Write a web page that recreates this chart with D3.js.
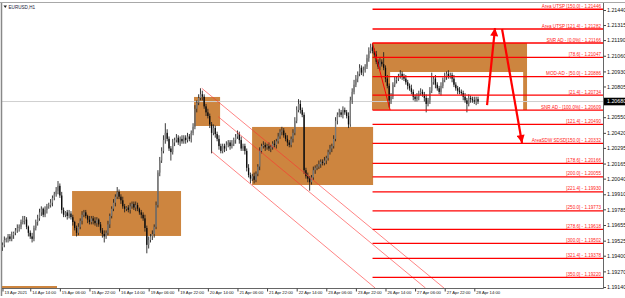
<!DOCTYPE html>
<html>
<head>
<meta charset="utf-8">
<script src="https://cdn.jsdelivr.net/npm/d3@7"></script>
<style>
  html, body { margin: 0; padding: 0; background: #fff; }
  svg { display: block; font-family: "Liberation Sans", Arial, sans-serif; }
</style>
</head>
<body>
<svg id="chart" width="625" height="298"></svg>
<script>
// EURUSD H1 closes (one per bar)
const closes = [
  1.1949,1.1953,1.1954,1.1956,1.1954,1.1957,1.1959,1.1961,1.1963,1.1964,
  1.1968,1.1969,1.1970,1.1964,1.1959,1.1956,1.1954,1.1963,1.1968,1.1971,
  1.1976,1.1979,1.1974,1.1978,1.1981,1.1982,1.1984,1.1988,1.1991,1.1994,
  1.1998,1.1990,1.1978,1.1974,1.1976,1.1973,1.1975,1.1972,1.1968,1.1963,
  1.1959,1.1964,1.1969,1.1974,1.1976,1.1973,1.1970,1.1968,1.1971,1.1969,
  1.1967,1.1970,1.1966,1.1961,1.1958,1.1956,1.1959,1.1966,1.1973,1.1979,
  1.1984,1.1989,1.1993,1.1989,1.1986,1.1981,1.1979,1.1980,1.1978,1.1981,
  1.1983,1.1980,1.1982,1.1979,1.1976,1.1974,1.1971,1.1963,1.1949,1.1953,
  1.1956,1.1958,1.1964,1.1982,1.2009,1.2019,1.2027,1.2036,1.2042,1.2037,
  1.2029,1.2026,1.2034,1.2036,1.2038,1.2034,1.2037,1.2035,1.2038,1.2036,
  1.2039,1.2037,1.2042,1.2047,1.2062,1.2067,1.2071,1.2074,1.2072,1.2064,
  1.2059,1.2056,1.2049,1.2042,1.2046,1.2041,1.2037,1.2031,1.2027,1.2031,
  1.2029,1.2032,1.2034,1.2031,1.2033,1.2036,1.2039,1.2041,1.2036,1.2029,
  1.2031,1.2027,1.2013,1.2007,1.2004,1.2006,1.2003,1.2008,1.2014,1.2027,
  1.2031,1.2032,1.2030,1.2031,1.2029,1.2030,1.2033,1.2032,1.2035,1.2039,
  1.2043,1.2044,1.2040,1.2037,1.2034,1.2032,1.2037,1.2042,1.2052,1.2061,
  1.2066,1.2061,1.2057,1.2011,1.2006,1.2004,1.2001,1.2005,1.2011,1.2013,
  1.2014,1.2016,1.2018,1.2017,1.2019,1.2021,1.2026,1.2029,1.2031,1.2037,
  1.2052,1.2057,1.2059,1.2057,1.2061,1.2059,1.2056,1.2049,1.2069,1.2076,
  1.2082,1.2087,1.2091,1.2096,1.2092,1.2094,1.2097,1.2104,1.2110,1.2113,
  1.2110,1.2107,1.2101,1.2097,1.2101,1.2099,1.2096,1.2087,1.2081,1.2069,
  1.2072,1.2082,1.2086,1.2087,1.2089,1.2091,1.2089,1.2087,1.2084,1.2081,
  1.2079,1.2076,1.2072,1.2070,1.2072,1.2075,1.2076,1.2074,1.2071,1.2066,
  1.2069,1.2077,1.2084,1.2087,1.2082,1.2079,1.2076,1.2081,1.2086,1.2089,
  1.2091,1.2089,1.2090,1.2087,1.2082,1.2079,1.2077,1.2076,1.2075,1.2072,
  1.2069,1.2066,1.2071,1.2070,1.2069,1.2068,1.2070,1.2068
];
const firstOpen = 1.1947;
// wick lengths in pips above / below the body
const upWicks = [
  2,3,1,2,2,3,1,2,3,2,2,4,3,2,1,2,3,2,2,3,
  3,2,1,3,2,2,3,2,2,3,4,2,3,2,1,2,3,2,2,1,
  2,3,2,3,2,2,1,3,2,2,3,2,1,2,2,3,2,3,2,2,
  3,2,4,2,2,3,2,1,2,3,2,2,3,2,1,2,2,3,2,3,
  2,3,2,3,2,3,3,4,8,3,2,2,3,2,3,2,2,3,2,2,
  3,2,2,3,3,2,3,5,3,2,2,3,2,2,3,2,2,3,2,2,
  2,3,2,2,3,2,2,3,2,3,2,2,2,3,2,2,3,2,2,3,
  2,3,2,2,3,2,2,3,2,3,2,3,2,2,3,2,2,3,3,3,
  4,3,2,2,2,3,2,2,3,2,2,3,2,2,3,2,2,3,2,3,
  3,2,3,2,3,2,2,3,3,3,4,3,2,3,2,3,2,3,3,3,
  3,2,3,2,3,2,10,2,3,2,3,2,3,2,2,3,2,2,3,2,
  2,3,2,2,3,2,3,2,2,3,2,3,8,2,3,2,2,3,2,3,
  2,3,2,2,3,2,2,3,2,2,3,2,3,2,2,3,2,2
];
const downWicks = [
  3,2,2,3,2,2,3,2,2,3,2,2,3,2,3,2,3,2,2,3,
  2,3,2,2,3,2,2,3,2,2,3,2,3,2,2,3,2,2,3,2,
  3,2,2,3,2,2,3,2,2,3,2,3,2,2,3,5,2,2,3,2,
  2,3,2,2,3,2,3,2,2,3,2,2,3,2,2,3,2,3,7,3,
  2,3,3,2,2,3,2,2,3,2,2,7,2,3,2,2,3,2,2,3,
  2,2,3,2,2,3,2,2,3,2,3,2,3,17,2,3,2,3,2,2,
  3,2,2,3,2,2,3,2,3,2,2,3,3,2,4,2,3,2,2,3,
  2,2,3,2,2,3,2,2,3,2,2,3,2,2,3,2,2,3,2,2,
  2,3,2,3,2,3,7,2,2,3,2,2,3,2,2,3,2,2,3,2,
  2,3,2,2,3,2,2,3,2,3,2,2,3,2,2,3,2,2,3,2,
  2,3,2,2,3,2,2,3,2,6,3,2,2,3,2,2,3,2,2,3,
  2,2,3,2,2,3,2,2,3,7,2,3,2,2,3,2,2,3,2,2,
  3,2,2,3,2,2,3,2,2,3,2,7,2,3,2,2,3,2
];

const timeTickBars = [0,15,31,47,63,79,95,111,127,143,159,175,191,207,223,239,255];
const timeTickLabels = ["13 Apr 2021","14 Apr 14:00","15 Apr 06:00","15 Apr 22:00","16 Apr 14:00",
  "19 Apr 06:00","19 Apr 22:00","20 Apr 14:00","21 Apr 06:00","21 Apr 22:00","22 Apr 14:00",
  "23 Apr 06:00","23 Apr 22:00","26 Apr 14:00","27 Apr 06:00","27 Apr 22:00","28 Apr 14:00"];
const priceTicks = [1.21440,1.21315,1.21190,1.21060,1.20930,1.20805,1.20550,1.20420,1.20295,
  1.20165,1.20040,1.19910,1.19785,1.19655,1.19525,1.19400,1.19270,1.19140];
const bidPrice = 1.20680;

// fibonacci levels (drawn from the anchor bar to the right edge)
const fibAnchorBars = [200, 209.5];
const fibAnchorPrices = [1.21166, 1.20609];
const fibPrices = [1.21446,1.21282,1.21166,1.21047,1.20886,1.20734,1.20609,1.20490,1.20332,
  1.20166,1.20055,1.19930,1.19773,1.19618,1.19502,1.19378,1.19220];
const fibLabels = ["Area UTSP [150.0] - 1.21446","Area UTSP [121.4] - 1.21282","SNR AD - [0.0%] - 1.21166",
  "[78.6] - 1.21047","MOD-AD - [50.0] - 1.20886","[21.4] - 1.20734","SNR AD - [100.0%] - 1.20609",
  "[121.4] - 1.20490","AreaSDW SDSD[150.0] - 1.20332","[178.6] - 1.20166","[200.0] - 1.20055",
  "[221.4] - 1.19930","[250.0] - 1.19773","[278.6] - 1.19618","[300.0] - 1.19502",
  "[321.4] - 1.19378","[350.0] - 1.19220"];

// supply / demand zones: bar range and price range
const zoneBars = [[37.6, 96.5], [103.5, 117.6], [134.9, 200.3], [199.7, 283.5]];
const zonePrices = [[1.19937, 1.19564], [1.20718, 1.20477], [1.20469, 1.19987], [1.21166, 1.20610]];
const blankBars = [209.5, 281.4];
const blankPrices = [1.20925, 1.20610];

// descending channel lines
const channelBars = [[107.7, 238.6], [116.6, 228.6], [113.1, 201.4]];
const channelPrices = [[1.20790, 1.19132], [1.20554, 1.19132], [1.20264, 1.19132]];

// projection arrows
const arrowBars = [[261.9, 266.2], [270.0, 280.8]];
const arrowPrices = [[1.20651, 1.21290], [1.21282, 1.20336]];

const svg = d3.select("#chart");
const W = 625, H = 298;
const plot = { left: 2, right: 603, top: 3, bottom: 288 };
const zoneColor = "#cd853f";

const x = d3.scaleLinear().domain([0, closes.length - 1]).range([2.5, 478]);
const y = d3.scaleLinear().domain([1.19132, 1.21498]).range([plot.bottom, plot.top]);

const bars = closes.map((c, i) => {
  const o = i === 0 ? firstOpen : closes[i - 1];
  return {
    i, o, c,
    h: Math.max(o, c) + upWicks[i] * 0.0001,
    l: Math.min(o, c) - downWicks[i] * 0.0001
  };
});

svg.append("rect").attr("width", W).attr("height", H).attr("fill", "#fff");

svg.append("clipPath").attr("id", "clip").append("rect")
  .attr("x", plot.left).attr("y", plot.top)
  .attr("width", plot.right - plot.left).attr("height", plot.bottom - plot.top);

const body = svg.append("g").attr("clip-path", "url(#clip)");

// zones
body.selectAll("rect.zone")
  .data(zoneBars)
  .enter().append("rect")
  .attr("class", "zone")
  .attr("x", d => x(d[0]))
  .attr("width", d => x(d[1]) - x(d[0]))
  .attr("y", (d, i) => y(zonePrices[i][0]))
  .attr("height", (d, i) => y(zonePrices[i][1]) - y(zonePrices[i][0]))
  .attr("fill", zoneColor);

body.append("rect")
  .attr("x", x(blankBars[0])).attr("width", x(blankBars[1]) - x(blankBars[0]))
  .attr("y", y(blankPrices[0])).attr("height", y(blankPrices[1]) - y(blankPrices[0]))
  .attr("fill", "#fff");

// bid line
body.append("line")
  .attr("x1", plot.left).attr("x2", plot.right)
  .attr("y1", y(bidPrice)).attr("y2", y(bidPrice))
  .attr("stroke", "#cfcfcf").attr("stroke-width", 1);

// candles
const candles = body.append("g");
candles.selectAll("line")
  .data(bars)
  .enter().append("line")
  .attr("x1", d => x(d.i)).attr("x2", d => x(d.i))
  .attr("y1", d => y(d.h)).attr("y2", d => y(d.l))
  .attr("stroke", "#222").attr("stroke-width", 0.9);
candles.selectAll("rect")
  .data(bars)
  .enter().append("rect")
  .attr("x", d => x(d.i) - 0.65)
  .attr("width", 1.3)
  .attr("y", d => y(Math.max(d.o, d.c)))
  .attr("height", d => Math.max(0.8, Math.abs(y(d.o) - y(d.c))))
  .attr("fill", d => d.c >= d.o ? "#7a7a7a" : "#0a0a0a");

// channel lines
body.selectAll("line.channel")
  .data(channelBars)
  .enter().append("line")
  .attr("class", "channel")
  .attr("x1", d => x(d[0])).attr("x2", d => x(d[1]))
  .attr("y1", (d, i) => y(channelPrices[i][0]))
  .attr("y2", (d, i) => y(channelPrices[i][1]))
  .attr("stroke", "#ff3030").attr("stroke-opacity", 0.75).attr("stroke-width", 0.8);

// fib trend line + levels
body.append("line")
  .attr("x1", x(fibAnchorBars[0])).attr("x2", x(fibAnchorBars[1]))
  .attr("y1", y(fibAnchorPrices[0])).attr("y2", y(fibAnchorPrices[1]))
  .attr("stroke", "#ff0000").attr("stroke-width", 1);

body.selectAll("line.fib")
  .data(fibPrices)
  .enter().append("line")
  .attr("class", "fib")
  .attr("x1", x(fibAnchorBars[0])).attr("x2", plot.right)
  .attr("y1", d => y(d)).attr("y2", d => y(d))
  .attr("stroke", "#ff0000").attr("stroke-width", 1.3);

body.selectAll("text.fib")
  .data(fibPrices)
  .enter().append("text")
  .attr("class", "fib")
  .attr("x", plot.right - 2)
  .attr("y", d => y(d) - 1.4)
  .attr("text-anchor", "end")
  .attr("font-size", 4.6)
  .attr("fill", "#ff2020")
  .text((d, i) => fibLabels[i]);

// arrows
svg.append("defs").append("marker")
  .attr("id", "head")
  .attr("viewBox", "0 0 10 10")
  .attr("refX", 10).attr("refY", 5)
  .attr("markerUnits", "userSpaceOnUse")
  .attr("markerWidth", 9).attr("markerHeight", 8)
  .attr("orient", "auto")
  .append("path").attr("d", "M0,0L10,5L0,10Z").attr("fill", "#ff0000");

body.selectAll("line.arrow")
  .data(arrowBars)
  .enter().append("line")
  .attr("class", "arrow")
  .attr("x1", d => x(d[0])).attr("x2", d => x(d[1]))
  .attr("y1", (d, i) => y(arrowPrices[i][0]))
  .attr("y2", (d, i) => y(arrowPrices[i][1]))
  .attr("stroke", "#ff0000").attr("stroke-width", 2.2)
  .attr("marker-end", "url(#head)");

// frame
const frame = svg.append("g").attr("fill", "none");
frame.append("line").attr("x1", 0).attr("x2", W).attr("y1", plot.top - 0.5).attr("y2", plot.top - 0.5)
  .attr("stroke", "#a8a8a8");
frame.append("line").attr("x1", plot.left - 0.5).attr("x2", plot.left - 0.5)
  .attr("y1", plot.top).attr("y2", plot.bottom + 8).attr("stroke", "#888").attr("stroke-width", 1.5);
frame.append("line").attr("x1", plot.left).attr("x2", plot.right + 0.5)
  .attr("y1", plot.bottom + 0.5).attr("y2", plot.bottom + 0.5).attr("stroke", "#666");
frame.append("line").attr("x1", plot.right + 0.5).attr("x2", plot.right + 0.5)
  .attr("y1", plot.top).attr("y2", plot.bottom + 0.5).attr("stroke", "#666");

// scroll marker at bottom left
svg.append("rect")
  .attr("x", plot.left).attr("y", plot.bottom - 2)
  .attr("width", 55).attr("height", 2)
  .attr("fill", zoneColor);

// time axis
const gx = svg.append("g")
  .attr("transform", `translate(0,${plot.bottom + 0.5})`)
  .call(d3.axisBottom(x).tickValues(timeTickBars)
    .tickFormat((d, i) => timeTickLabels[i]).tickSize(3).tickSizeOuter(0));
gx.select(".domain").remove();
gx.selectAll(".tick line").attr("stroke", "#444");
gx.selectAll(".tick text")
  .attr("text-anchor", "start").attr("x", 1.5).attr("y", 3)
  .attr("font-size", 4.2).attr("font-family", "Liberation Sans, Arial, sans-serif").attr("fill", "#111");

// price axis
const gy = svg.append("g")
  .attr("transform", `translate(${plot.right + 0.5},0)`)
  .call(d3.axisRight(y).tickValues(priceTicks).tickFormat(d3.format(".5f")).tickSize(2.5).tickSizeOuter(0));
gy.select(".domain").remove();
gy.selectAll(".tick line").attr("stroke", "#444");
gy.selectAll(".tick text")
  .attr("x", 3.5).attr("font-size", 5.3)
  .attr("font-family", "Liberation Sans, Arial, sans-serif").attr("fill", "#111");

// bid label
svg.append("rect")
  .attr("x", plot.right + 1).attr("y", y(bidPrice) - 3.8)
  .attr("width", W - plot.right).attr("height", 7.6)
  .attr("fill", "#000");
svg.append("text")
  .attr("x", plot.right + 4).attr("y", y(bidPrice) + 1.9)
  .attr("font-size", 5.3).attr("fill", "#fff")
  .text(d3.format(".5f")(bidPrice));

// title
svg.append("path").attr("d", "M3.5,5.5L7,5.5L5.25,8Z").attr("fill", "#222");
svg.append("text")
  .attr("x", 8.5).attr("y", 8.6)
  .attr("font-size", 4.6).attr("fill", "#1a1a3a")
  .text("EURUSD,H1");
</script>
</body>
</html>
